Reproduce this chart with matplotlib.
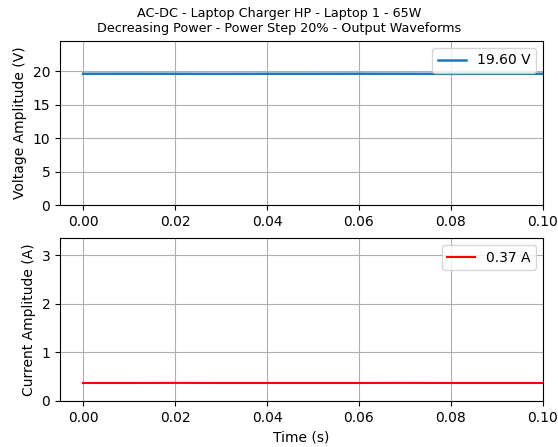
import matplotlib
matplotlib.use("Agg")
import matplotlib.pyplot as plt

# sampled output waveforms
time_s = [0.00, 0.01, 0.02, 0.03, 0.04, 0.05, 0.06, 0.07, 0.08, 0.09, 0.10]
voltage_v = [19.60, 19.61, 19.60, 19.59, 19.60, 19.60, 19.61, 19.60, 19.59, 19.60, 19.60]
current_a = [0.37, 0.37, 0.372, 0.37, 0.37, 0.37, 0.37, 0.372, 0.37, 0.37, 0.37]

v_label = "19.60 V"
i_label = "0.37 A"

plt.rcParams["font.size"] = 10

fig = plt.figure(figsize=(5.58, 4.47), dpi=100)
ax1 = fig.add_axes([60 / 558, 1 - 205 / 447, 483 / 558, 164 / 447])
ax2 = fig.add_axes([60 / 558, 1 - 401 / 447, 483 / 558, 163 / 447])

ax1.plot(time_s, voltage_v, color="#1f77b4", linewidth=1.8, label=v_label)
ax1.set_ylabel("Voltage Amplitude (V)")
ax1.set_xlim(-0.005, 0.1)
ax1.set_ylim(0, 24.5)
ax1.set_yticks([0, 5, 10, 15, 20])
ax1.grid(True)
ax1.legend(loc="upper right")

ax2.plot(time_s, current_a, color="red", linewidth=1.5, label=i_label)
ax2.set_ylabel("Current Amplitude (A)")
ax2.set_xlabel("Time (s)")
ax2.set_xlim(-0.005, 0.1)
ax2.set_ylim(0, 3.35)
ax2.set_yticks([0, 1, 2, 3])
ax2.grid(True)
ax2.legend(loc="upper right")

for ax in (ax1, ax2):
    ax.set_xticks([0.0, 0.02, 0.04, 0.06, 0.08, 0.10])
    ax.xaxis.set_major_formatter(plt.FormatStrFormatter("%.2f"))

fig.suptitle("AC-DC - Laptop Charger HP - Laptop 1 - 65W\n"
             "Decreasing Power - Power Step 20% - Output Waveforms",
             fontsize=9.2, y=0.984)

fig.savefig("out.png", dpi=100)
